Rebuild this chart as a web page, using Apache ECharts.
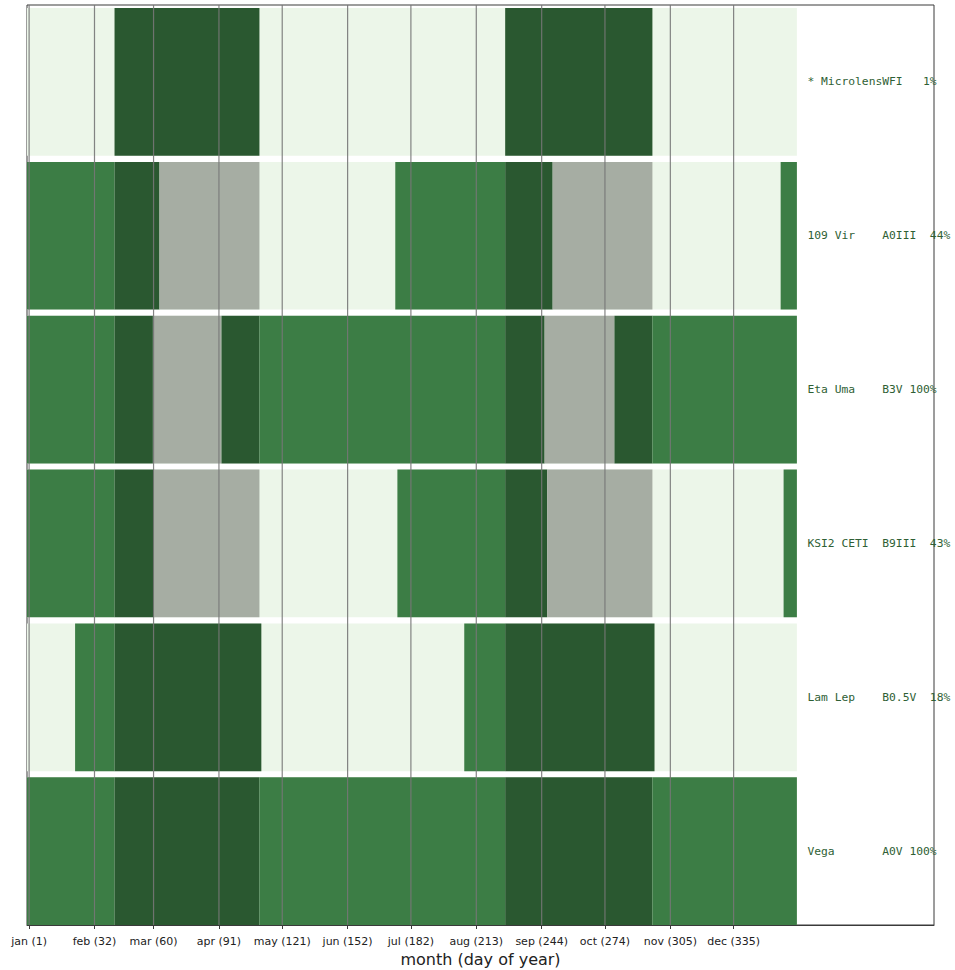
<!DOCTYPE html>
<html>
<head>
<meta charset="utf-8">
<title>Observing windows</title>
<script src="https://cdn.jsdelivr.net/npm/echarts@6/dist/echarts.min.js"></script>
<style>
  html, body { margin: 0; padding: 0; background: #ffffff; }
  #chart { width: 955px; height: 970px; }
</style>
</head>
<body>
<div id="chart"></div>
<script>
// Month ticks on the day-of-year axis
const tickDays = [1, 32, 60, 91, 121, 152, 182, 213, 244, 274, 305, 335];
const tickMonths = ['jan', 'feb', 'mar', 'apr', 'may', 'jun', 'jul', 'aug', 'sep', 'oct', 'nov', 'dec'];

// One row per target, top to bottom
const rowLabels = [
  '* MicrolensWFI   1%',
  '109 Vir    A0III  44%',
  'Eta Uma    B3V 100%',
  'KSI2 CETI  B9III  43%',
  'Lam Lep    B0.5V  18%',
  'Vega       A0V 100%'
];

// Full year span drawn behind every row
const yearSpan = [0, 365];

// Windows per target: [startDay, endDay, kind]
//   vis  = target observable outside the season
//   both = target observable inside the season
//   gap  = season, but target not observable
const microlensWindows = [[41.5, 110.2, 'both'], [226.7, 296.5, 'both']];
const vir109Windows = [
  [0, 41.5, 'vis'], [41.5, 62.8, 'both'], [62.8, 110.2, 'gap'],
  [174.6, 226.7, 'vis'], [226.7, 249.2, 'both'], [249.2, 296.5, 'gap'],
  [357.3, 365, 'vis']
];
const etaUmaWindows = [
  [0, 41.5, 'vis'], [41.5, 59.7, 'both'], [59.7, 92.2, 'gap'], [92.2, 110.2, 'both'],
  [110.2, 226.7, 'vis'], [226.7, 245.4, 'both'], [245.4, 278.5, 'gap'], [278.5, 296.5, 'both'],
  [296.5, 365, 'vis']
];
const ksi2CetiWindows = [
  [0, 41.5, 'vis'], [41.5, 60.3, 'both'], [60.3, 110.2, 'gap'],
  [175.6, 226.7, 'vis'], [226.7, 246.6, 'both'], [246.6, 296.5, 'gap'],
  [358.7, 365, 'vis']
];
const lamLepWindows = [
  [22.8, 41.5, 'vis'], [41.5, 111.1, 'both'],
  [207.3, 226.7, 'vis'], [226.7, 297.5, 'both']
];
const vegaWindows = [
  [0, 41.5, 'vis'], [41.5, 110.2, 'both'], [110.2, 226.7, 'vis'],
  [226.7, 296.5, 'both'], [296.5, 365, 'vis']
];
const rowWindows = [microlensWindows, vir109Windows, etaUmaWindows, ksi2CetiWindows, lamLepWindows, vegaWindows];

// Styling
const kindColors = { vis: '#3c7d45', both: '#2a5830', gap: '#a6ada3' };
const bgColor = '#ecf6e9';
const barHalf = 0.48;
const labelDay = 370;

const kindNames = Object.keys(kindColors);
const bgData = rowLabels.map((_, i) => [yearSpan[0], yearSpan[1], i]);
const segData = [];
rowWindows.forEach((wins, i) => {
  wins.forEach(w => segData.push([w[0], w[1], i, kindNames.indexOf(w[2])]));
});

function rectItem(api, color) {
  const s = api.value(0), e = api.value(1), r = api.value(2);
  const a = api.coord([s, r - barHalf]);
  const b = api.coord([e, r + barHalf]);
  return {
    type: 'rect',
    shape: {
      x: Math.min(a[0], b[0]),
      y: Math.min(a[1], b[1]),
      width: Math.abs(b[0] - a[0]),
      height: Math.abs(b[1] - a[1])
    },
    style: { fill: color }
  };
}

const chart = echarts.init(document.getElementById('chart'), null, { renderer: 'svg' });

chart.setOption({
  animation: false,
  backgroundColor: '#ffffff',
  grid: {
    left: 27, right: 21, top: 5, bottom: 45,
    outerBoundsMode: 'none',
    containLabel: false,
    show: true, borderColor: '#3a3a3a', borderWidth: 1, backgroundColor: 'transparent'
  },
  xAxis: {
    type: 'value',
    min: 0,
    max: 430,
    name: 'month (day of year)',
    nameLocation: 'middle',
    nameGap: 26,
    nameTextStyle: { fontFamily: 'DejaVu Sans', fontSize: 16, color: '#222' },
    axisLine: { show: true, onZero: false, lineStyle: { color: '#3a3a3a', width: 1 } },
    axisTick: { show: true, customValues: tickDays, length: 4, lineStyle: { color: '#3a3a3a' } },
    axisLabel: {
      customValues: tickDays,
      margin: 11,
      fontFamily: 'DejaVu Sans',
      fontSize: 11,
      color: '#222',
      formatter: v => {
        const k = tickDays.indexOf(Math.round(v));
        return k >= 0 ? tickMonths[k] + ' (' + tickDays[k] + ')' : '';
      }
    },
    splitLine: { show: false }
  },
  yAxis: {
    type: 'value',
    min: -0.5,
    max: 5.48,
    inverse: true,
    show: false,
    axisLine: { onZero: false },
    splitLine: { show: false }
  },
  series: [
    {
      type: 'custom',
      name: 'year',
      data: bgData,
      encode: { x: [0, 1], y: 2 },
      renderItem: (params, api) => rectItem(api, bgColor),
      z: 1
    },
    {
      type: 'custom',
      name: 'windows',
      data: segData,
      encode: { x: [0, 1], y: 2 },
      renderItem: (params, api) => rectItem(api, kindColors[kindNames[api.value(3)]]),
      z: 2
    },
    {
      type: 'custom',
      name: 'month lines',
      data: tickDays.map(d => [d]),
      encode: { x: 0 },
      renderItem: (params, api) => {
        const cs = params.coordSys;
        const x = api.coord([api.value(0), 0])[0];
        return {
          type: 'line',
          shape: { x1: x, y1: cs.y, x2: x, y2: cs.y + cs.height },
          style: { stroke: '#777777', lineWidth: 1.2, opacity: 0.9 }
        };
      },
      z: 3
    },
    {
      type: 'custom',
      name: 'labels',
      data: rowLabels.map((t, i) => [labelDay, i]),
      encode: { x: 0, y: 1 },
      renderItem: (params, api) => {
        const p = api.coord([api.value(0), api.value(1)]);
        return {
          type: 'text',
          x: p[0],
          y: p[1],
          style: {
            text: rowLabels[params.dataIndex].replace(/ /g, '\u00a0'),
            font: '11.3px "DejaVu Sans Mono"',
            fill: '#2f5f35',
            align: 'left',
            verticalAlign: 'middle'
          }
        };
      },
      z: 4
    }
  ]
});
</script>
</body>
</html>
